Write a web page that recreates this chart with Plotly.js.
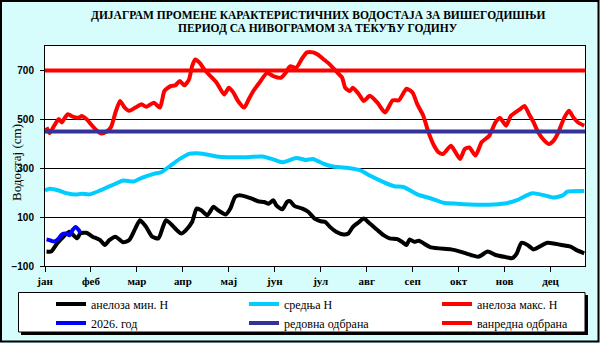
<!DOCTYPE html>
<html><head><meta charset="utf-8">
<script src="https://cdn.plot.ly/plotly-3.0.1.min.js"></script>
<style>html,body{margin:0;padding:0;background:#d6fcfc;}#chart{width:600px;height:343px;}</style>
</head><body><div id="chart"></div>
<script>
// ---- data (x = day of the hydrological year, 30-day months) ----
const monthTicks = [0,30,60,90,120,150,180,210,240,270,300,330];
const monthLabels = ['јан','феб','мар','апр','мај','јун','јул','авг','сеп','окт','нов','дец'];
const yTicks = [-100,100,300,500,700];
const titleLines = ['ДИЈАГРАМ ПРОМЕНЕ КАРАКТЕРИСТИЧНИХ ВОДОСТАЈА ЗА ВИШЕГОДИШЊИ','ПЕРИОД СА НИВОГРАМОМ ЗА ТЕКУЋУ ГОДИНУ'];

const maxDays = [1,3,6,9,11,13,15,18,22,24,27,30,34,37,40,43,46,49,52,55,59,63,66,71,75,78,82,85,88,91,94,96,98,101,104,108,112,117,120,123,126,130,133,136,140,145,149,154,157,160,164,168,171,175,178,182,186,190,194,196,199,201,205,208,212,217,222,227,231,236,240,243,247,250,254,257,260,265,268,271,274,277,281,285,290,294,297,301,304,307,310,313,316,319,322,326,329,332,335,339,342,345,348,352];
const maxLevel = [467,444,474,501,487,507,521,511,507,514,501,480,453,442,449,467,528,575,548,535,548,562,551,568,548,616,636,639,657,639,663,717,745,731,704,677,650,602,629,609,575,548,582,616,650,690,677,670,690,717,711,751,774,774,765,745,724,697,670,629,616,629,602,575,596,568,528,578,578,625,609,562,514,453,392,365,359,392,365,338,379,385,352,406,433,487,505,474,514,528,541,555,521,487,446,413,399,413,446,507,535,507,487,474];

const minDays = [1,4,8,12,16,21,23,27,31,36,39,42,46,51,55,59,62,66,70,74,77,79,83,86,89,92,96,99,102,106,110,113,118,121,124,127,132,135,139,143,146,149,151,155,158,160,163,168,172,176,180,183,186,190,195,198,201,205,208,212,217,221,225,230,233,236,238,241,244,252,265,271,278,283,289,294,301,305,308,311,315,319,328,337,343,347,352];
const minLevel = [-41,-41,-7,20,40,13,33,36,20,6,-14,6,20,-3,6,54,87,60,20,13,60,87,67,47,33,47,80,135,128,108,142,128,111,135,182,189,182,176,165,162,155,169,148,132,162,165,145,135,121,94,83,80,60,40,29,33,60,80,94,74,47,26,13,10,-1,-14,9,-1,3,-24,-32,-41,-55,-62,-41,-55,-64,-68,-48,-5,-14,-32,-5,-14,-21,-35,-48];

const meanDays = [0,3,9,14,20,24,29,36,42,47,51,58,64,71,76,82,88,94,99,103,112,119,130,142,148,155,164,170,175,182,188,197,206,212,221,228,234,243,252,260,269,282,293,302,308,318,326,332,338,341,352];
const meanLevel = [209,216,209,198,192,196,193,209,226,239,250,246,263,277,284,311,338,359,361,359,348,345,345,348,338,324,342,334,338,318,307,302,291,270,243,226,223,193,176,159,155,151,152,158,169,198,189,180,189,204,207];

const curDays = [1,3,6,9,11,14,16,18,20,22,23];
const curLevel = [9,6,0,13,29,33,26,47,60,47,36];

const levelDays = [0,352.5];
const regularDefence = [450,450];
const emergencyDefence = [700,700];

// ---- layout helpers ----
const L=45, T=46, W=540, H=220;
const px = x => (x-L)/W;
const py = y => (T+H-y)/H;
const serif = 'Liberation Serif';
const sans = 'Liberation Sans';

function line(x,y,name,color,legend){
  return {x:x,y:y,name:name,type:'scatter',mode:'lines',
    line:{color:color,width:4,shape:'spline',smoothing:0.6},
    legend:legend,hoverinfo:'skip'};
}
const traces = [
  line(minDays,minLevel,'анелоза мин. H','#000000','legend'),
  line(meanDays,meanLevel,'средња H','#00ccff','legend2'),
  line(maxDays,maxLevel,'анелоза макс. H','#ff0000','legend3'),
  line(curDays,curLevel,'2026. год','#0000ff','legend4'),
  {x:levelDays,y:regularDefence,name:'редовна одбрана',type:'scatter',mode:'lines',line:{color:'#333399',width:4},legend:'legend5'},
  {x:levelDays,y:emergencyDefence,name:'ванредна одбрана',type:'scatter',mode:'lines',line:{color:'#ff0000',width:4},legend:'legend6'}
];

function leg(xp,yp){
  return {x:px(xp),y:py(yp),xanchor:'left',yanchor:'middle',bgcolor:'rgba(0,0,0,0)',borderwidth:0,
    font:{family:serif,size:12,color:'#000'}};
}
function titleAnn(text,yc){
  return {text:text,x:px(318),y:py(yc),xref:'paper',yref:'paper',showarrow:false,xanchor:'center',yanchor:'middle',
    font:{family:serif,size:11.5,color:'#000',weight:'bold'}};
}
const layout = {
  width:600,height:343,
  font:{family:serif,color:'#000'},
  margin:{l:L,r:600-L-W,t:T,b:343-T-H,pad:0,autoexpand:false},
  paper_bgcolor:'#d6fcfc',plot_bgcolor:'#ffffff',
  xaxis:{range:[0,352.5],tickmode:'array',tickvals:monthTicks,ticktext:monthLabels,ticks:'outside',ticklen:5,
    tickcolor:'#000',showline:true,linecolor:'#000',linewidth:1,mirror:true,showgrid:false,zeroline:false,
    tickfont:{family:serif,size:11,color:'#000',weight:'bold'},ticklabelstandoff:0,fixedrange:true,automargin:false},
  yaxis:{range:[-100,800],tickmode:'array',tickvals:yTicks,ticks:'outside',ticklen:4,tickcolor:'#000',
    showline:true,linecolor:'#000',linewidth:1,mirror:true,showgrid:true,gridcolor:'#000',gridwidth:1,zeroline:false,
    tickfont:{family:sans,size:10,color:'#000',weight:'bold'},ticklabelstandoff:4,fixedrange:true,automargin:false},
  showlegend:true,
  legend:leg(51,304),legend2:leg(244,304),legend3:leg(437,304),
  legend4:leg(51,323),legend5:leg(244,323),legend6:leg(437,323),
  annotations:[
    titleAnn(titleLines[0],15),
    titleAnn(titleLines[1],29),
    {text:'Водостај (cm)',textangle:-90,x:px(16),y:py(163),xref:'paper',yref:'paper',showarrow:false,
    xanchor:'center',yanchor:'middle',font:{family:serif,size:13,color:'#000'}}],
  shapes:[
    {type:'rect',xref:'paper',yref:'paper',x0:px(21),x1:px(588),y0:py(295),y1:py(335),fillcolor:'#000',line:{width:0},layer:'below'},
    {type:'rect',xref:'paper',yref:'paper',x0:px(18.5),x1:px(585),y0:py(292.5),y1:py(332),fillcolor:'#fff',line:{color:'#000',width:1},layer:'below'},
    {type:'rect',xref:'paper',yref:'paper',x0:px(1),x1:px(598.5),y0:py(1),y1:py(341.5),fillcolor:'rgba(0,0,0,0)',line:{color:'#000',width:2},layer:'above'}
  ]
};
Plotly.newPlot('chart',traces,layout,{staticPlot:true,displayModeBar:false});
</script></body></html>
